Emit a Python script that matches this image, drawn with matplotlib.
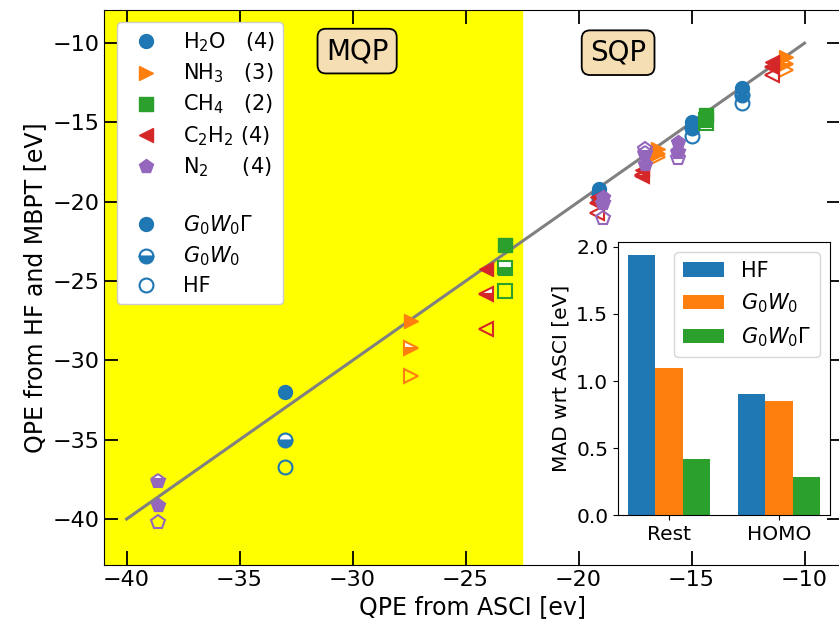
import matplotlib.pyplot as plt
import numpy as np
from matplotlib.lines import Line2D

# QPEs [eV]: ASCI reference (x) vs G0W0Gamma / G0W0 / HF (y)
asci_h2o = [-33.0, -19.1, -15.0, -12.75]
gwg_h2o = [-32.0, -19.2, -14.95, -12.85]
gw_h2o = [-35.0, -19.5, -15.35, -13.25]
hf_h2o = [-36.7, -19.8, -15.85, -13.8]

asci_nh3 = [-27.4, -16.5, -10.8]
gwg_nh3 = [-27.5, -16.7, -10.9]
gw_nh3 = [-29.2, -17.0, -11.3]
hf_nh3 = [-31.0, -17.2, -11.7]

asci_ch4 = [-23.25, -14.35]
gwg_ch4 = [-22.7, -14.55]
gw_ch4 = [-24.2, -14.85]
hf_ch4 = [-25.6, -15.05]

asci_c2h2 = [-24.1, -19.2, -17.2, -11.45]
gwg_c2h2 = [-24.25, -19.7, -18.0, -11.2]
gw_c2h2 = [-25.8, -20.1, -18.4, -11.5]
hf_c2h2 = [-28.0, -20.7, -18.3, -12.0]

asci_n2 = [-38.6, -18.9, -17.05, -15.6]
gwg_n2 = [-39.1, -19.7, -17.6, -16.25]
gw_n2 = [-37.6, -20.1, -16.9, -16.85]
hf_n2 = [-40.2, -21.0, -16.7, -17.25]

# MAD wrt ASCI for the inset
mad_cats = ['Rest', 'HOMO']
mad_hf = [1.94, 0.90]
mad_gw = [1.10, 0.85]
mad_gwg = [0.42, 0.28]

molecules = [
    ('H$_2$O   (4)', 'o', 'C0', asci_h2o, gwg_h2o, gw_h2o, hf_h2o),
    ('NH$_3$   (3)', '>', 'C1', asci_nh3, gwg_nh3, gw_nh3, hf_nh3),
    ('CH$_4$   (2)', 's', 'C2', asci_ch4, gwg_ch4, gw_ch4, hf_ch4),
    ('C$_2$H$_2$ (4)', '<', 'C3', asci_c2h2, gwg_c2h2, gw_c2h2, hf_c2h2),
    ('N$_2$     (4)', 'p', 'C4', asci_n2, gwg_n2, gw_n2, hf_n2),
]

ms = 10
fig = plt.figure(figsize=(8.39, 6.28), dpi=100)
ax = fig.add_axes([0.124, 0.1003, 0.878, 0.884])

ax.axvspan(-41, -22.5, color='yellow', zorder=0)
ax.plot([-40, -10], [-40, -10], color='gray', lw=2.2, zorder=1)

for name, mk, c, x, gwg, gw, hf in molecules:
    ax.plot(x, hf, ls='none', marker=mk, ms=ms, mfc='none', mec=c, mew=1.5)
    ax.plot(x, gw, ls='none', marker=mk, ms=ms, color=c, fillstyle='bottom',
            markerfacecoloralt='white', mew=1.5)
    ax.plot(x, gwg, ls='none', marker=mk, ms=ms, color=c, mew=1.0)

ax.text(-29.8, -10.5, 'MQP', fontsize=20, ha='center', va='center',
        bbox=dict(boxstyle='round,pad=0.3', facecolor='wheat', edgecolor='black', lw=1.3))
ax.text(-18.25, -10.6, 'SQP', fontsize=20, ha='center', va='center',
        bbox=dict(boxstyle='round,pad=0.3', facecolor='wheat', edgecolor='black', lw=1.3))

handles = []
for name, mk, c, x, gwg, gw, hf in molecules:
    handles.append(Line2D([], [], ls='none', marker=mk, ms=ms, color=c, label=name))
handles.append(Line2D([], [], ls='none', label=' '))
handles.append(Line2D([], [], ls='none', marker='o', ms=ms, color='C0', label=r'$G_0W_0\Gamma$'))
handles.append(Line2D([], [], ls='none', marker='o', ms=ms, color='C0', fillstyle='bottom',
                      markerfacecoloralt='white', mew=1.5, label=r'$G_0W_0$'))
handles.append(Line2D([], [], ls='none', marker='o', ms=ms, mfc='none', mec='C0', mew=1.5,
                      label='HF'))
ax.legend(handles=handles, loc='upper left', fontsize=15, labelspacing=0.36,
          framealpha=1, borderaxespad=0.6)

ax.set_xlim(-41, -8.4)
ax.set_ylim(-42.9, -7.9)
ax.set_xticks([-40, -35, -30, -25, -20, -15, -10])
ax.set_yticks([-40, -35, -30, -25, -20, -15, -10])
ax.tick_params(direction='in', top=True, right=True, labelsize=16, length=10, width=1.3)
ax.set_xlabel('QPE from ASCI [ev]', fontsize=17)
ax.set_ylabel('QPE from HF and MBPT [eV]', fontsize=17)

# inset with the mean absolute deviations
axin = fig.add_axes([0.7366, 0.1799, 0.2527, 0.4347])
pos = np.arange(len(mad_cats))
w = 0.25
axin.bar(pos - w, mad_hf, w, color='C0', label='HF')
axin.bar(pos, mad_gw, w, color='C1', label=r'$G_0W_0$')
axin.bar(pos + w, mad_gwg, w, color='C2', label=r'$G_0W_0\Gamma$')
axin.set_xticks(pos)
axin.set_xticklabels(mad_cats)
axin.set_yticks([0.0, 0.5, 1.0, 1.5, 2.0])
axin.tick_params(labelsize=14.5)
axin.set_ylabel('MAD wrt ASCI [eV]', fontsize=14.5)
axin.legend(loc='upper right', fontsize=15)

fig.savefig('out.png', dpi=100)
